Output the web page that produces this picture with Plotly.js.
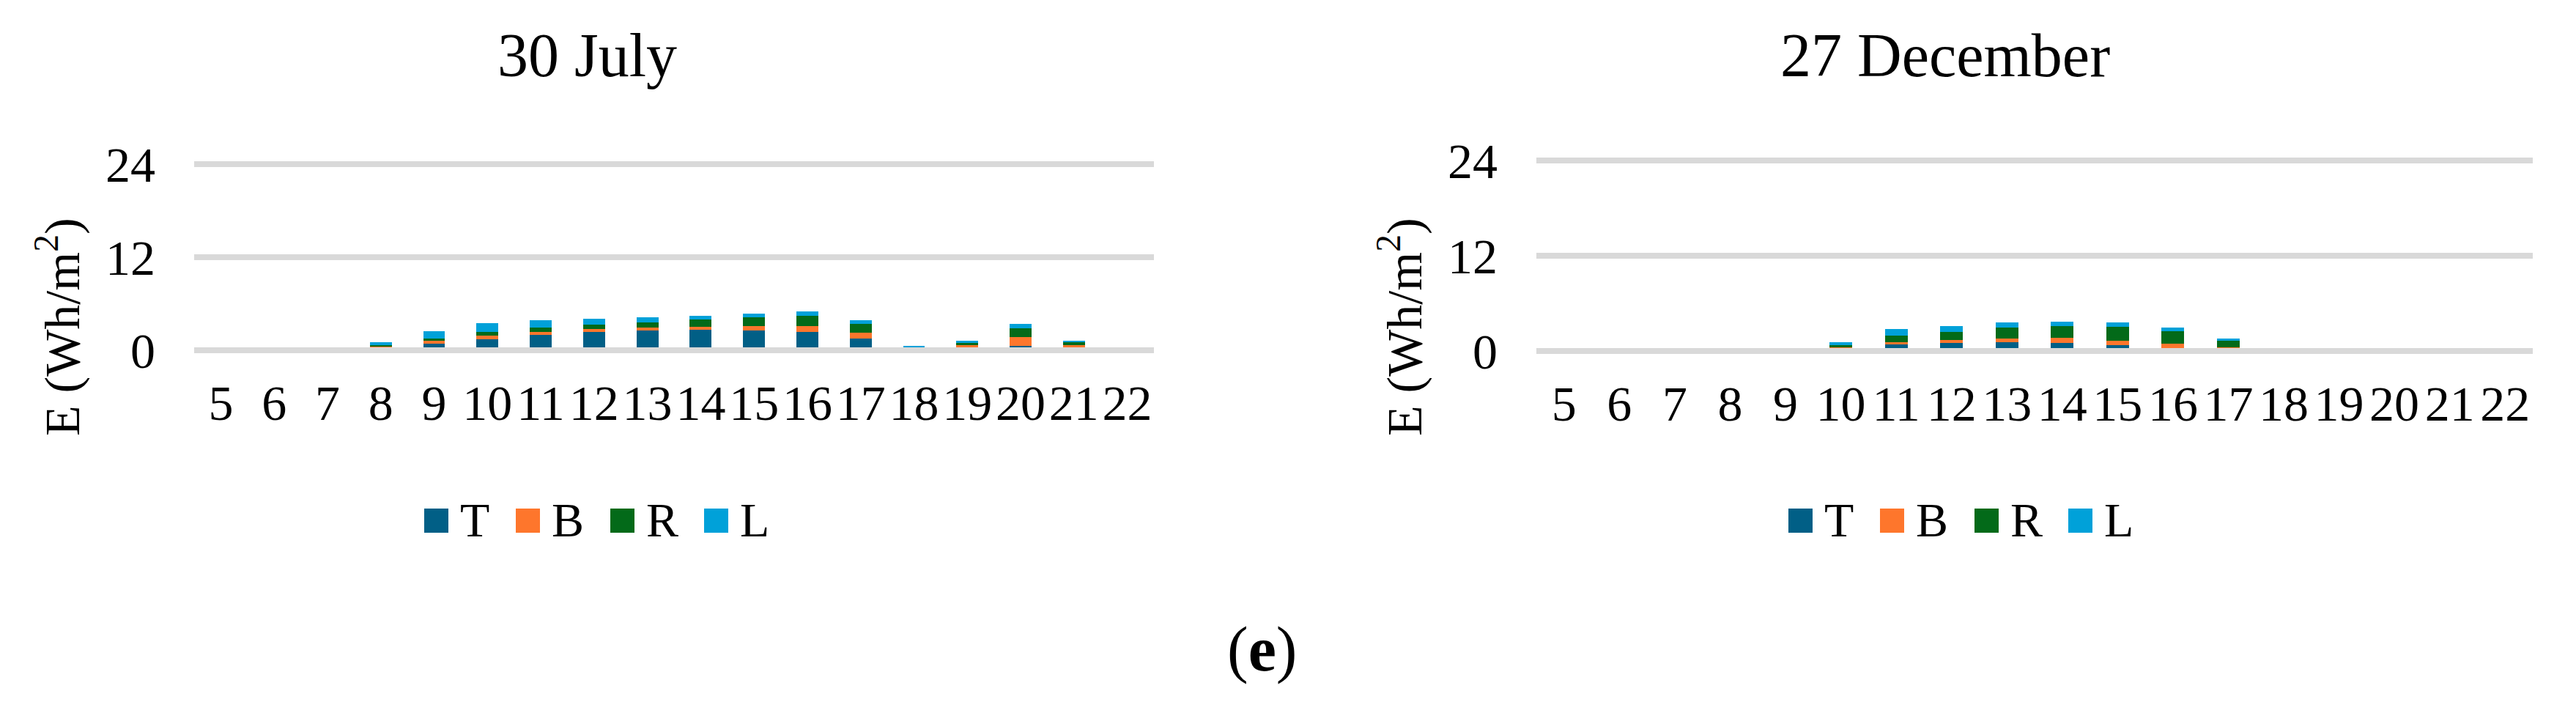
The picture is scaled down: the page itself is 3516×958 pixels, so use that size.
<!DOCTYPE html>
<html>
<head>
<meta charset="utf-8">
<script src="https://cdn.plot.ly/plotly-3.0.1.min.js"></script>
<style>
    html, body { margin: 0; padding: 0; background: #ffffff; }
    #chart { width: 3516px; height: 958px; }
</style>
</head>
<body>
<div id="chart"></div>
<script>
// Data
const hours = ['5', '6', '7', '8', '9', '10', '11', '12', '13', '14', '15', '16', '17', '18', '19', '20', '21', '22'];
const seriesNames = ['T', 'B', 'R', 'L'];
const seriesColors = ['#015f86', '#fe762c', '#036a19', '#00a1d9'];

// 30 July
const julyT = [0, 0, 0, 0.10, 0.82, 1.42, 1.98, 2.36, 2.55, 2.64, 2.55, 2.36, 1.51, 0, 0.05, 0.57, 0.05, 0];
const julyB = [0, 0, 0, 0.37, 0.41, 0.47, 0.38, 0.38, 0.38, 0.38, 0.57, 0.75, 0.75, 0, 0.61, 1.13, 0.61, 0];
const julyR = [0, 0, 0, 0.16, 0.28, 0.47, 0.57, 0.57, 0.66, 0.94, 1.13, 1.32, 1.13, 0, 0.28, 1.13, 0.38, 0];
const julyL = [0, 0, 0, 0.38, 0.94, 1.13, 0.94, 0.75, 0.66, 0.47, 0.47, 0.57, 0.47, 0.57, 0.28, 0.57, 0.19, 0];

// 27 December
const decT = [0, 0, 0, 0, 0, 0.10, 0.83, 1.02, 1.11, 1.02, 0.74, 0.10, 0.05, 0, 0, 0, 0, 0];
const decB = [0, 0, 0, 0, 0, 0.36, 0.28, 0.37, 0.46, 0.65, 0.55, 0.82, 0.41, 0, 0, 0, 0, 0];
const decR = [0, 0, 0, 0, 0, 0.28, 0.83, 1.02, 1.38, 1.48, 1.75, 1.57, 0.83, 0, 0, 0, 0, 0];
const decL = [0, 0, 0, 0, 0, 0.37, 0.83, 0.74, 0.65, 0.55, 0.55, 0.46, 0.28, 0, 0, 0, 0, 0];

const yTicks = [0, 12, 24];
const chartTitles = ['30 July', '27 December'];
const yLabel = 'E (Wh/m<sup>2</sup>)';
const panelLabel = '(<b>e</b>)';

// Page geometry (pixels), converted to paper coordinates
const W = 3516, H = 958;
const px = x => x / W;
const py = y => 1 - y / H;
const FONT = '"Times New Roman", "Liberation Serif", serif';

const julySeries = [julyT, julyB, julyR, julyL];
const decSeries = [decT, decB, decR, decL];

let traces = [];
seriesNames.forEach((name, i) => {
    traces.push({
        type: 'bar', x: hours, y: julySeries[i], name: name,
        xaxis: 'x', yaxis: 'y',
        marker: { color: seriesColors[i], line: { width: 0 } },
        showlegend: false, hoverinfo: 'skip'
    });
});
seriesNames.forEach((name, i) => {
    traces.push({
        type: 'bar', x: hours, y: decSeries[i], name: name,
        xaxis: 'x2', yaxis: 'y2',
        marker: { color: seriesColors[i], line: { width: 0 } },
        showlegend: false, hoverinfo: 'skip'
    });
});

function xAxis(domain, anchor) {
    return {
        domain: domain, anchor: anchor,
        type: 'category', range: [-0.5, hours.length - 0.5],
        tickmode: 'array', tickvals: hours, ticktext: hours,
        showgrid: false, zeroline: false, showline: false,
        ticks: '', tickangle: 0, ticklabelstandoff: 15,
        tickfont: { family: FONT, size: 68, color: '#000000' },
        fixedrange: true
    };
}

function yAxis(domain, anchor) {
    return {
        domain: domain, anchor: anchor,
        range: [-1, 25], tickvals: yTicks,
        showgrid: true, gridcolor: '#d9d9d9', gridwidth: 8,
        zeroline: true, zerolinecolor: '#d9d9d9', zerolinewidth: 8,
        zerolinelayer: 'above traces',
        showline: false, ticks: '', ticklabelstandoff: 52,
        tickfont: { family: FONT, size: 68, color: '#000000' },
        fixedrange: true
    };
}

// Plot areas: left 265..1575 px, right 2097..3457 px
const layout = {
    width: W, height: H,
    margin: { l: 0, r: 0, t: 0, b: 0 },
    paper_bgcolor: '#ffffff', plot_bgcolor: '#ffffff',
    font: { family: FONT, color: '#000000' },
    barmode: 'stack', bargap: 0.59,
    showlegend: false,
    xaxis: xAxis([px(265), px(1575)], 'y'),
    yaxis: yAxis([py(488.6), py(213.4)], 'x'),
    xaxis2: xAxis([px(2097), px(3457)], 'y2'),
    yaxis2: yAxis([py(489.8), py(208.2)], 'x2'),
    shapes: [],
    annotations: []
};

// Chart titles
[801, 2655].forEach((cx, k) => {
    layout.annotations.push({
        xref: 'paper', yref: 'paper', x: px(cx), y: py(75),
        xanchor: 'center', yanchor: 'middle', showarrow: false,
        text: chartTitles[k], font: { family: FONT, size: 84, color: '#000000' }
    });
});

// Y axis titles
[80, 1912].forEach(cx => {
    layout.annotations.push({
        xref: 'paper', yref: 'paper', x: px(cx), y: py(446),
        xanchor: 'center', yanchor: 'middle', showarrow: false, textangle: -90,
        text: yLabel, font: { family: FONT, size: 68, color: '#000000' }
    });
});

// Legends drawn as squares + labels under each chart
const legendStarts = [579, 2441];
const legendOffsets = [0, 125, 254, 382];
legendStarts.forEach(x0 => {
    seriesNames.forEach((name, i) => {
        const sx = x0 + legendOffsets[i];
        layout.shapes.push({
            type: 'rect', xref: 'paper', yref: 'paper',
            x0: px(sx), x1: px(sx + 33), y0: py(727), y1: py(694),
            fillcolor: seriesColors[i], line: { width: 0 }
        });
        layout.annotations.push({
            xref: 'paper', yref: 'paper', x: px(sx + 47), y: py(709),
            xanchor: 'left', yanchor: 'middle', showarrow: false,
            text: name, font: { family: FONT, size: 66, color: '#000000' }
        });
    });
});

// Panel label
layout.annotations.push({
    xref: 'paper', yref: 'paper', x: px(1722), y: py(886),
    xanchor: 'center', yanchor: 'middle', showarrow: false,
    text: panelLabel, font: { family: FONT, size: 86, color: '#000000' }
});

Plotly.newPlot('chart', traces, layout, { displayModeBar: false, staticPlot: true });
</script>
</body>
</html>
